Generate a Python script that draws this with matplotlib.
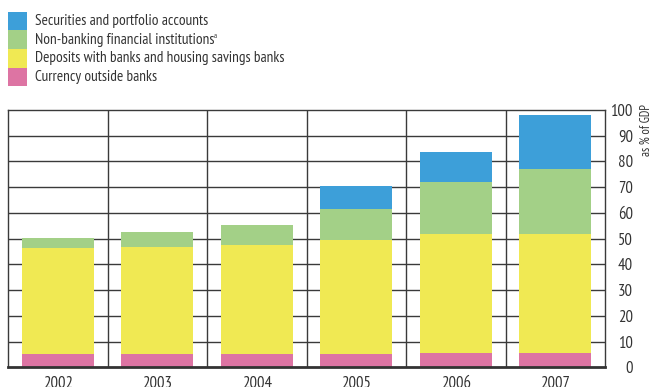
import matplotlib
matplotlib.use("Agg")
import matplotlib.pyplot as plt
from matplotlib.patches import Rectangle
import numpy as np

plt.rcParams['font.family'] = ['PT Sans Narrow', 'Roboto Condensed', 'DejaVu Sans']

years = ['2002', '2003', '2004', '2005', '2006', '2007']
currency = [5.1, 5.1, 5.1, 5.2, 5.6, 5.6]
deposits = [41.2, 41.7, 42.5, 44.3, 46.3, 46.3]
nonbank = [3.9, 5.8, 7.8, 12.1, 20.2, 25.3]
securities = [0, 0, 0, 8.9, 11.7, 20.9]

series = [
    ('Currency outside banks', currency, '#dd74a3'),
    ('Deposits with banks and housing savings banks', deposits, '#f0e953'),
    ('Non-banking financial institutions', nonbank, '#a3d087'),
    ('Securities and portfolio accounts', securities, '#3d9fd9'),
]

W, H = 652, 387
fig = plt.figure(figsize=(W / 100, H / 100), dpi=100)
ax = fig.add_axes([8 / W, (H - 367.3) / H, 597 / W, 257.3 / H])

x = np.arange(len(years))
bottom = np.zeros(len(years))
for name, vals, col in series:
    ax.bar(x, vals, width=0.72, bottom=bottom, color=col, zorder=2, linewidth=0)
    bottom += np.array(vals)

ax.set_xlim(-0.5, len(years) - 0.5)
ax.set_ylim(0, 100)
ax.set_yticks(range(0, 101, 10))
for y in range(10, 100, 10):
    ax.axhline(y, color='#3a3a3a', lw=1.0, zorder=1)
for xv in x[:-1] + 0.5:
    ax.axvline(xv, color='#3a3a3a', lw=1.0, zorder=1)

ax.yaxis.tick_right()
ax.tick_params(axis='y', length=0, pad=20, labelsize=12, colors='#333333')
for lab in ax.get_yticklabels():
    lab.set_horizontalalignment('right')
ax.set_xticks(x)
ax.set_xticklabels(years)
ax.tick_params(axis='x', length=0, pad=6, labelsize=12, colors='#333333')

for s in ax.spines.values():
    s.set_color('#3a3a3a')
    s.set_linewidth(1.0)
ax.spines['bottom'].set_linewidth(2.0)
ax.spines['bottom'].set_color('#333333')

fig.text(646 / W, 1 - 104 / H, 'as % of GDP', rotation=90, ha='center', va='top',
         fontsize=9, color='#333333')

# legend, top entry first
box_h = 18.5
for i, (name, vals, col) in enumerate(reversed(series)):
    top = 12 + i * box_h
    fig.add_artist(Rectangle((8 / W, 1 - (top + box_h) / H), 19 / W, box_h / H,
                             transform=fig.transFigure, color=col, lw=0))
    t = fig.text(35 / W, 1 - (top + box_h / 2) / H, name, ha='left', va='center',
                 fontsize=11, color='#333333')
    if name.startswith('Non-banking'):
        r = fig.canvas.get_renderer()
        bb = t.get_window_extent(r)
        fig.text((bb.x1 - 1) / W, 1 - (top + 3) / H, 'a', ha='left', va='top',
                 fontsize=5.5, color='#333333')

fig.savefig('out.png', dpi=100)
